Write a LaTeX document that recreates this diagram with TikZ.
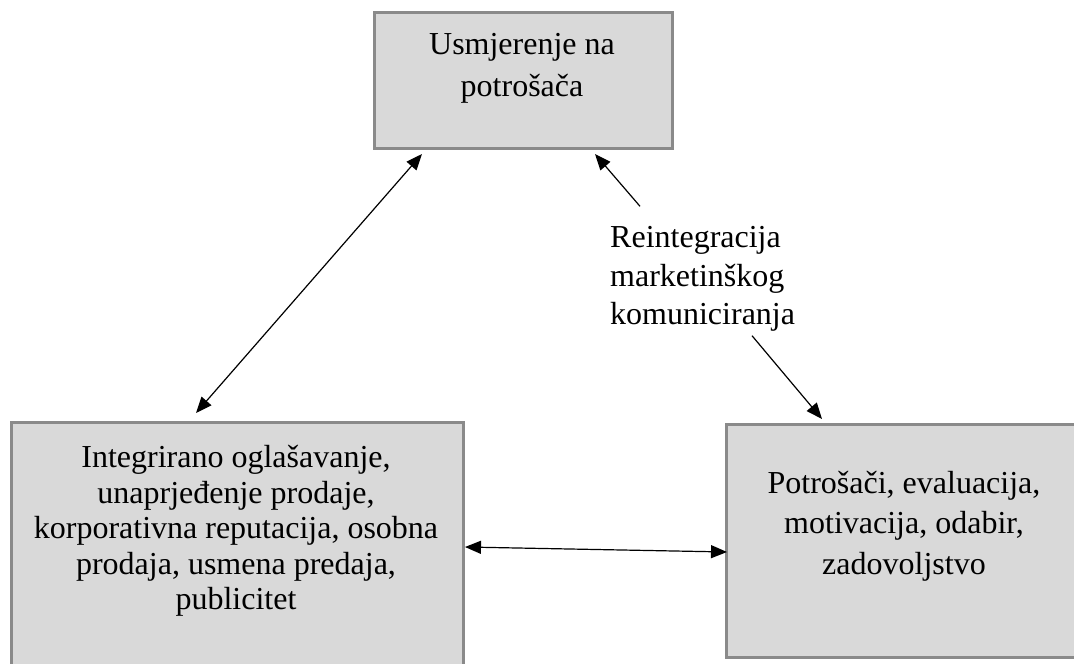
\documentclass[tikz,border=0pt]{standalone}
\usepackage{fontspec}
\setmainfont{Liberation Serif}
\usetikzlibrary{arrows.meta}
\definecolor{boxfill}{HTML}{D9D9D9}
\definecolor{boxline}{HTML}{8A8A8A}
\begin{document}
\begin{tikzpicture}[x=1pt,y=-1pt,
  boxnode/.style={draw=boxline, line width=3pt, fill=boxfill, inner sep=0pt, anchor=north west},
  txt/.style={align=center, inner sep=0pt},
  tip/.tip={Triangle[length=16pt,width=13pt]},
  conn/.style={line width=1.2pt, -tip},
  dconn/.style={line width=1.2pt, tip-tip}]
\useasboundingbox (0,0) rectangle (1074,664);
\clip (0,0) rectangle (1074,664);
% boxes
\node[boxnode, minimum width=298pt, minimum height=136pt] (T) at (373,11) {};
\node[boxnode, minimum width=452pt, minimum height=270pt] (L) at (10,421) {};
\node[boxnode, minimum width=360pt, minimum height=233pt] (P) at (725,423) {};
% texts
\node[txt, font=\fontsize{32}{42}\selectfont] (Tt) at (522,68) {Usmjerenje na\\potrošača};
\node[txt, font=\fontsize{32}{35.5}\selectfont] (Lt) at (236,531) {Integrirano oglašavanje,\\unaprjeđenje prodaje,\\korporativna reputacija, osobna\\prodaja, usmena predaja,\\publicitet};
\node[txt, font=\fontsize{32}{40.5}\selectfont] (Pt) at (904,526) {Potrošači, evaluacija,\\motivacija, odabir,\\zadovoljstvo};
\node[inner sep=0pt, align=left, anchor=west, font=\fontsize{32}{38.5}\selectfont] (R) at (610,279) {Reintegracija\\marketinškog\\komuniciranja};
% connectors
\draw[dconn] ([xshift=49pt,yshift=-4pt]T.south west) -- ([xshift=186pt,yshift=8pt]L.north west);
\draw[dconn] ([yshift=-126pt]L.north east) -- ([xshift=2pt,yshift=-129pt]P.north west);
\draw[conn] ([xshift=30pt,yshift=20pt]R.north west) -- ([xshift=-79pt,yshift=-4pt]T.south east);
\draw[conn] ([xshift=142pt,yshift=-4pt]R.south west) -- ([xshift=97pt,yshift=4pt]P.north west);
\end{tikzpicture}
\end{document}
